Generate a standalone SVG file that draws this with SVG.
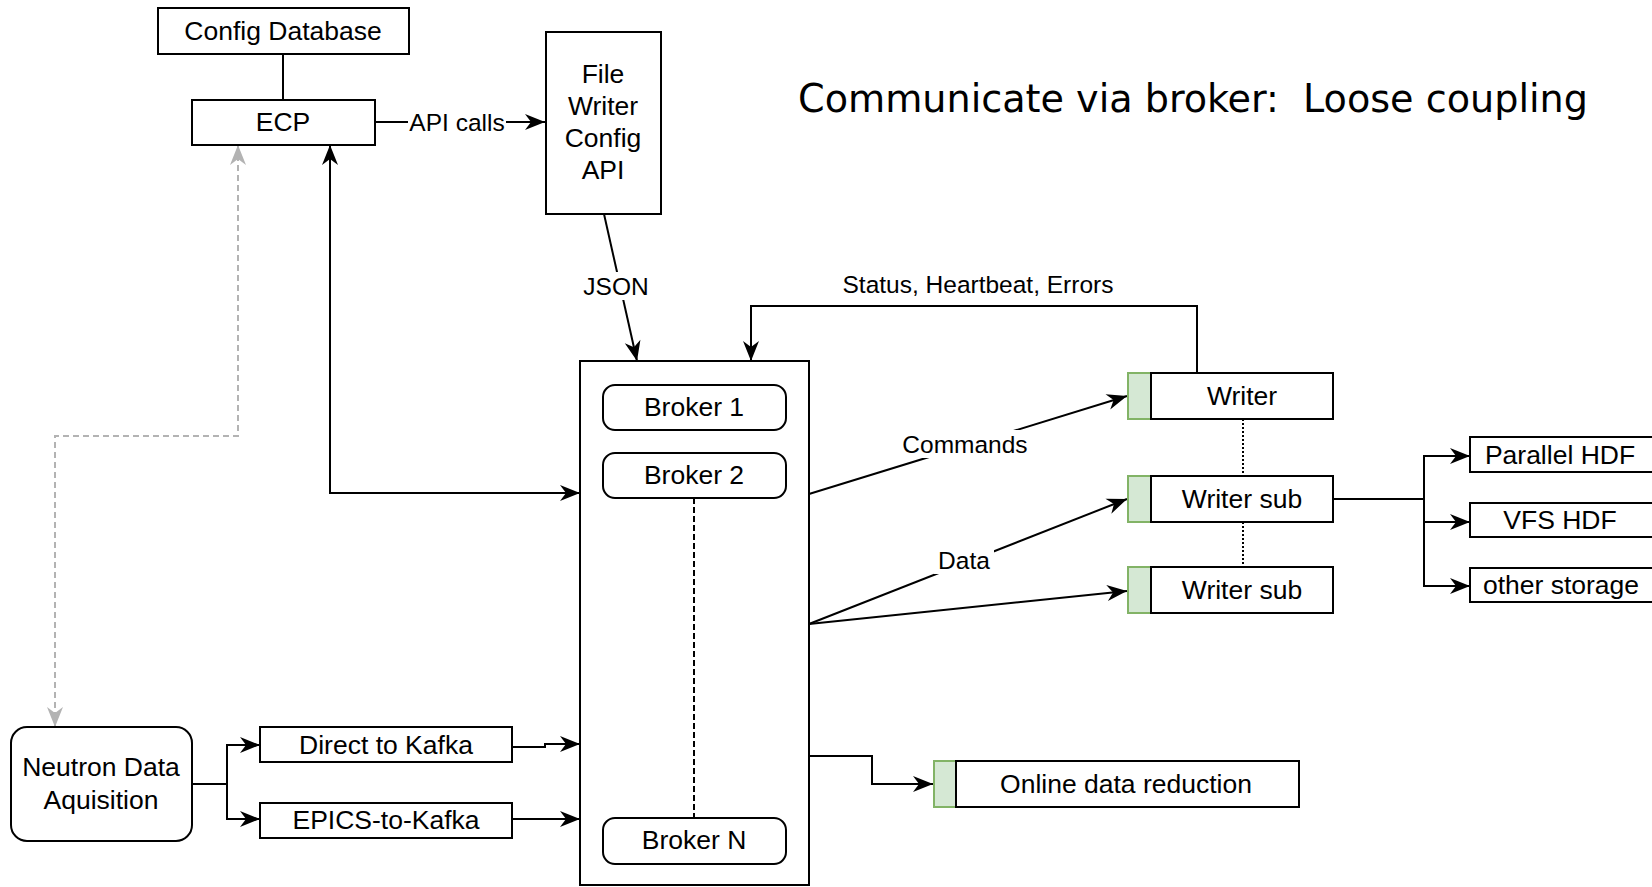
<svg xmlns="http://www.w3.org/2000/svg" width="1652" height="887" viewBox="0 0 1652 887">
<defs>
<style>
.box{fill:#fff;stroke:#000;stroke-width:2}
.grn{fill:#d5e8d4;stroke:#82b366;stroke-width:2}
.t{font-family:"Liberation Sans",Arial,sans-serif;font-size:26.5px;fill:#000;text-anchor:middle;dominant-baseline:central}
.lbl{font-family:"Liberation Sans",Arial,sans-serif;font-size:24.5px;fill:#000;text-anchor:middle;dominant-baseline:central}
.ln{fill:none;stroke:#000;stroke-width:2}
.arr{marker-end:url(#ah)}
.gl{fill:none;stroke:#b3b3b3;stroke-width:2;stroke-dasharray:6,4}
</style>
<marker id="ah" markerUnits="userSpaceOnUse" markerWidth="24" markerHeight="20" refX="20" refY="8" orient="auto-start-reverse" overflow="visible">
<path d="M0,0 L20,8 L0,16 L6,8 z" fill="#000"/>
</marker>
<marker id="ahg" markerUnits="userSpaceOnUse" markerWidth="24" markerHeight="20" refX="20" refY="8" orient="auto-start-reverse" overflow="visible">
<path d="M0,0 L20,8 L0,16 L6,8 z" fill="#b3b3b3"/>
</marker>
</defs>
<rect width="1652" height="887" fill="#fff"/>

<g id="connectors">
<path class="ln" d="M283,54 L283,100"/>
<path class="ln arr" d="M375,122 L545,122"/>
<path class="ln arr" d="M604,214 L637,361"/>
<path class="ln" d="M330,145 L330,493 L580,493" marker-start="url(#ah)" marker-end="url(#ah)"/>
<path class="gl" d="M238,145 L238,436 L55,436 L55,727" marker-start="url(#ahg)" marker-end="url(#ahg)"/>
<path class="ln" d="M192,784 L227,784"/>
<path class="ln arr" d="M227,784 L227,745 L260,745"/>
<path class="ln arr" d="M227,784 L227,819 L260,819"/>
<path class="ln arr" d="M512,747 L545,747 L545,744 L580,744"/>
<path class="ln arr" d="M512,819 L580,819"/>
<path class="ln arr" d="M809,756 L872,756 L872,784 L933,784"/>
<path class="ln arr" d="M1197,373 L1197,306 L751,306 L751,361"/>
<path class="ln arr" d="M809,494 L1127,396"/>
<path class="ln arr" d="M809,624 L1127,499"/>
<path class="ln arr" d="M809,624 L1127,591"/>
<path class="ln" d="M1243,419 L1243,476 M1243,522 L1243,567" stroke-dasharray="2,2"/>
<path class="ln" d="M1333,499 L1424,499"/>
<path class="ln arr" d="M1424,499 L1424,456 L1470,456"/>
<path class="ln arr" d="M1424,499 L1424,522 L1470,522"/>
<path class="ln arr" d="M1424,499 L1424,586 L1470,586"/>
<rect x="408" y="108" width="98" height="28" fill="#fff"/>
<text class="lbl" x="457" y="122">API calls</text>
<rect x="582" y="272" width="68" height="28" fill="#fff"/>
<text class="lbl" x="616" y="286">JSON</text>
<rect x="898" y="430" width="134" height="28" fill="#fff"/>
<text class="lbl" x="965" y="444">Commands</text>
<rect x="934" y="546" width="60" height="28" fill="#fff"/>
<text class="lbl" x="964" y="560">Data</text>
<text class="lbl" x="978" y="284">Status, Heartbeat, Errors</text>
</g>

<g id="config-db"><rect class="box" x="158" y="8" width="251" height="46"/><text class="t" x="283" y="31">Config Database</text></g>
<g id="ecp"><rect class="box" x="192" y="100" width="183" height="45"/><text class="t" x="283" y="122">ECP</text></g>
<g id="fw-config-api"><rect class="box" x="546" y="32" width="115" height="182"/>
<text class="t" x="603" y="74">File</text><text class="t" x="603" y="106">Writer</text><text class="t" x="603" y="138">Config</text><text class="t" x="603" y="170">API</text></g>
<g id="brokers"><rect class="box" x="580" y="361" width="229" height="524"/>
<path d="M694,498 L694,818" fill="none" stroke="#000" stroke-width="2" stroke-dasharray="6,3"/></g>
<g id="broker1"><rect class="box" x="603" y="385" width="183" height="45" rx="12"/><text class="t" x="694" y="407">Broker 1</text></g>
<g id="broker2"><rect class="box" x="603" y="453" width="183" height="45" rx="12"/><text class="t" x="694" y="475">Broker 2</text></g>
<g id="brokerN"><rect class="box" x="603" y="818" width="183" height="46" rx="12"/><text class="t" x="694" y="840">Broker N</text></g>
<g id="neutron"><rect class="box" x="11" y="727" width="181" height="114" rx="16"/><text class="t" x="101" y="767">Neutron Data</text><text class="t" x="101" y="800">Aquisition</text></g>
<g id="direct-kafka"><rect class="box" x="260" y="727" width="252" height="35"/><text class="t" x="386" y="745">Direct to Kafka</text></g>
<g id="epics-kafka"><rect class="box" x="260" y="803" width="252" height="35"/><text class="t" x="386" y="820">EPICS-to-Kafka</text></g>
<g id="writer"><rect class="grn" x="1128" y="373" width="23" height="46"/><rect class="box" x="1151" y="373" width="182" height="46"/><text class="t" x="1242" y="396">Writer</text></g>
<g id="writer-sub1"><rect class="grn" x="1128" y="476" width="23" height="46"/><rect class="box" x="1151" y="476" width="182" height="46"/><text class="t" x="1242" y="499">Writer sub</text></g>
<g id="writer-sub2"><rect class="grn" x="1128" y="567" width="23" height="46"/><rect class="box" x="1151" y="567" width="182" height="46"/><text class="t" x="1242" y="590">Writer sub</text></g>
<g id="online-reduction"><rect class="grn" x="934" y="761" width="22" height="46"/><rect class="box" x="956" y="761" width="343" height="46"/><text class="t" x="1126" y="784">Online data reduction</text></g>
<g id="parallel-hdf"><rect class="box" x="1470" y="437" width="190" height="35"/><text class="t" x="1560" y="455">Parallel HDF</text></g>
<g id="vfs-hdf"><rect class="box" x="1470" y="503" width="190" height="34"/><text class="t" x="1560" y="520">VFS HDF</text></g>
<g id="other-storage"><rect class="box" x="1470" y="568" width="190" height="34"/><text class="t" x="1561" y="585">other storage</text></g>
<g id="title"><text x="798" y="112" xml:space="preserve" style="white-space:pre" font-family="'DejaVu Sans Condensed','DejaVu Sans',sans-serif" font-size="39" textLength="790" lengthAdjust="spacingAndGlyphs" fill="#000">Communicate via broker:  Loose coupling</text></g>
</svg>
